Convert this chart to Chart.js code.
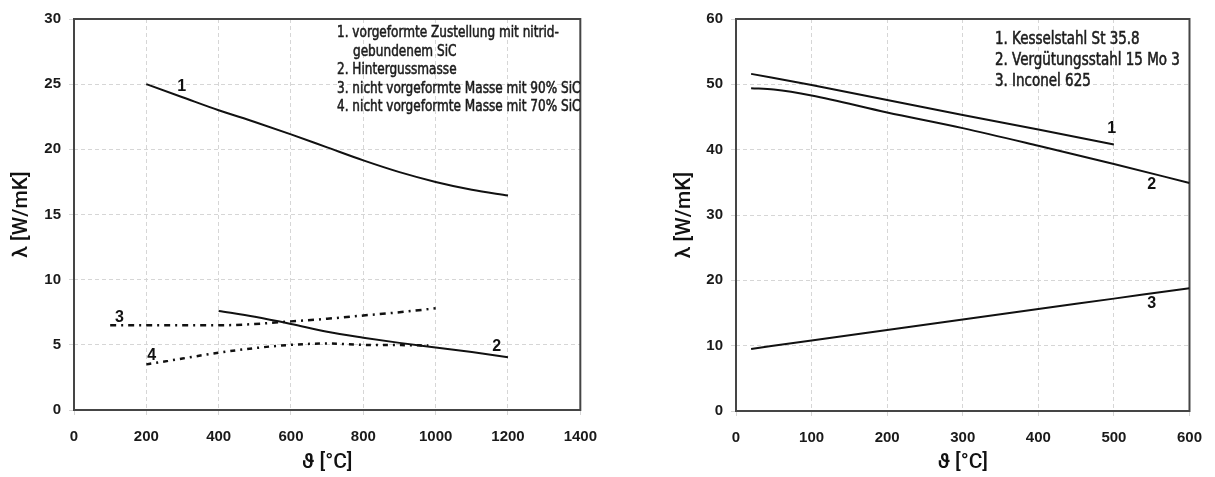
<!DOCTYPE html>
<html><head><meta charset="utf-8">
<script src="https://cdn.jsdelivr.net/npm/chart.js@4.4.1/dist/chart.umd.min.js"></script>
<style>
html,body{margin:0;padding:0;background:#fff;width:1215px;height:477px;overflow:hidden}
#l{position:absolute;left:0;top:0;width:610px;height:477px}
#r{position:absolute;left:620px;top:0;width:595px;height:477px}
</style></head><body>
<div id="l"><canvas id="c1"></canvas></div>
<div id="r"><canvas id="c2"></canvas></div>
<script>
// ---------- Left chart data ----------
const leftXTickValues = [0, 200, 400, 600, 800, 1000, 1200, 1400];
const leftYTickValues = [0, 5, 10, 15, 20, 25, 30];
const l1x = [200, 300, 400, 500, 600, 700, 800, 900, 1000, 1100, 1200];
const l1y = [25.0, 24.0, 23.0, 22.1, 21.15, 20.15, 19.15, 18.25, 17.5, 16.9, 16.45];
const l2x = [400, 500, 600, 700, 800, 900, 1000, 1100, 1200];
const l2y = [7.6, 7.15, 6.6, 6.0, 5.55, 5.15, 4.8, 4.45, 4.05];
const l3x = [100, 200, 300, 400, 500, 600, 700, 800, 900, 1000];
const l3y = [6.5, 6.5, 6.5, 6.5, 6.6, 6.8, 7.0, 7.25, 7.5, 7.8];
const l4x = [200, 300, 400, 500, 600, 700, 800, 900, 980];
const l4y = [3.5, 3.95, 4.4, 4.75, 5.0, 5.1, 5.0, 4.98, 4.95];
const leftCurveLabels = ["1", "2", "3", "4"];
const leftCurveLabelX = [298, 1169, 126, 215];
const leftCurveLabelY = [24.8, 4.9, 7.1, 4.2];
const leftLegendLines = [
  "1. vorgeformte Zustellung mit nitrid-",
  "gebundenem SiC",
  "2. Hintergussmasse",
  "3. nicht vorgeformte Masse mit 90% SiC",
  "4. nicht vorgeformte Masse mit 70% SiC"
];
const leftXTitle = "\u03D1 [°C]";
const leftYTitle = "\u03BB [W/mK]";

// ---------- Right chart data ----------
const rightXTickValues = [0, 100, 200, 300, 400, 500, 600];
const rightYTickValues = [0, 10, 20, 30, 40, 50, 60];
const r1x = [20, 100, 200, 300, 400, 500];
const r1y = [51.6, 49.9, 47.6, 45.3, 43.1, 40.8];
const r2x = [20, 50, 100, 200, 300, 400, 500, 600];
const r2y = [49.4, 49.2, 48.3, 45.7, 43.3, 40.6, 37.8, 34.9];
const r3x = [20, 100, 200, 300, 400, 500, 600];
const r3y = [9.5, 10.8, 12.4, 14.0, 15.6, 17.2, 18.8];
const rightCurveLabels = ["1", "2", "3"];
const rightCurveLabelX = [497, 550, 550];
const rightCurveLabelY = [43.2, 34.6, 16.4];
const rightLegendLines = [
  "1. Kesselstahl St 35.8",
  "2. Vergütungsstahl 15 Mo 3",
  "3. Inconel 625"
];
const rightXTitle = "\u03D1 [°C]";
const rightYTitle = "\u03BB [W/mK]";

// ---------- helpers ----------
const zip = (xs, ys) => xs.map((x, i) => ({x: x, y: ys[i]}));
const TICK_FONT = {family: "'Liberation Sans', Arial, sans-serif", size: 15, weight: 'bold'};
const TITLE_FONT = {family: "Roboto, 'Liberation Sans Narrow', sans-serif", size: 21, weight: '500'};
const GRID = {color: '#d6d6d6', lineWidth: 1, tickLength: 5, drawTicks: true};

const framePlugin = {
  id: 'frame',
  beforeDatasetsDraw(chart) {
    const {ctx, chartArea: a} = chart;
    ctx.save();
    ctx.strokeStyle = '#454545';
    ctx.lineWidth = 2;
    ctx.strokeRect(a.left, a.top, a.right - a.left, a.bottom - a.top);
    ctx.restore();
  }
};

const textPlugin = {
  id: 'texts',
  afterDatasetsDraw(chart, args, opts) {
    const {ctx} = chart;
    const xs = chart.scales.x, ys = chart.scales.y;
    ctx.save();
    ctx.fillStyle = '#111';
    ctx.textBaseline = 'middle';
    ctx.textAlign = 'center';
    ctx.font = opts.labelFont;
    opts.labels.forEach((t, i) => {
      ctx.fillText(t, xs.getPixelForValue(opts.lx[i]), ys.getPixelForValue(opts.ly[i]));
    });
    ctx.textAlign = 'left';
    ctx.font = opts.legendFont;
    ctx.fillStyle = '#1c1c1c';
    ctx.strokeStyle = '#1c1c1c';
    ctx.lineWidth = 0.55;
    opts.legend.forEach((t, i) => {
      const indent = (opts.indent && opts.indent[i]) || 0;
      ctx.save();
      ctx.translate(opts.legendX + indent, opts.legendY + i * opts.legendStep);
      ctx.scale(opts.legendScaleX, 1);
      ctx.fillText(t, 0, 0);
      ctx.strokeText(t, 0, 0);
      ctx.restore();
    });
    ctx.restore();
  }
};

function makeChart(id, cfg) {
  const lineDs = (data, dash, w) => ({
    data: data, borderColor: '#111', borderWidth: w, borderDash: dash,
    pointRadius: 0, fill: false, tension: 0.4, cubicInterpolationMode: 'monotone'
  });
  return new Chart(document.getElementById(id), {
    type: 'line',
    data: {datasets: cfg.series.map(s => lineDs(s.data, s.dash, s.w))},
    options: {
      animation: false, responsive: true, maintainAspectRatio: false,
      layout: {padding: {left: 0, right: cfg.padRight, top: cfg.padTop, bottom: 0}},
      plugins: {legend: {display: false}, tooltip: {enabled: false},
        texts: cfg.texts},
      scales: {
        x: {type: 'linear', min: cfg.xMin, max: cfg.xMax,
          afterBuildTicks: s => { s.ticks = cfg.xTicks.map(v => ({value: v})); },
          afterFit: s => { s.height = cfg.xAxisH; },
          grid: GRID, border: {display: false, dash: [4, 3]},
          ticks: {font: TICK_FONT, color: '#1a1a1a', padding: 13, maxRotation: 0, autoSkip: false,
            callback: v => String(v)},
          title: {display: true, text: cfg.xTitle, font: TITLE_FONT, color: '#111', padding: {top: 0, bottom: 2}}
        },
        y: {type: 'linear', min: cfg.yMin, max: cfg.yMax,
          afterBuildTicks: s => { s.ticks = cfg.yTicks.map(v => ({value: v})); },
          afterFit: s => { s.width = cfg.yAxisW; },
          grid: GRID, border: {display: false, dash: [4, 3]},
          ticks: {font: TICK_FONT, color: '#1a1a1a', padding: 8, autoSkip: false,
            callback: v => String(v)},
          title: {display: true, text: cfg.yTitle, font: TITLE_FONT, color: '#111', padding: {top: cfg.yTitlePad, bottom: 0}}
        }
      }
    },
    plugins: [framePlugin, textPlugin]
  });
}

makeChart('c1', {
  series: [
    {data: zip(l1x, l1y), dash: [], w: 2},
    {data: zip(l2x, l2y), dash: [], w: 2},
    {data: zip(l3x, l3y), dash: [6, 5, 2, 5], w: 2.5},
    {data: zip(l4x, l4y), dash: [5, 5, 2, 5], w: 2.5}
  ],
  xMin: 0, xMax: 1400, yMin: 0, yMax: 30,
  xTicks: leftXTickValues, yTicks: leftYTickValues,
  xTitle: leftXTitle, yTitle: leftYTitle,
  padRight: 21, padTop: 19, xAxisH: 67, yAxisW: 74, yTitlePad: 9,
  texts: {labels: leftCurveLabels, lx: leftCurveLabelX, ly: leftCurveLabelY,
    labelFont: "bold 16px 'Liberation Sans', Arial, sans-serif",
    legend: leftLegendLines, indent: [0, 16, 0, 0, 0],
    legendX: 337, legendY: 33, legendStep: 18.5, legendScaleX: 0.84,
    legendFont: "16px 'Liberation Sans Narrow', 'DejaVu Sans Condensed', sans-serif"}
});

makeChart('c2', {
  series: [
    {data: zip(r1x, r1y), dash: [], w: 2},
    {data: zip(r2x, r2y), dash: [], w: 2},
    {data: zip(r3x, r3y), dash: [], w: 2}
  ],
  xMin: 0, xMax: 600, yMin: 0, yMax: 60,
  xTicks: rightXTickValues, yTicks: rightYTickValues,
  xTitle: rightXTitle, yTitle: rightYTitle,
  padRight: 21, padTop: 19, xAxisH: 66, yAxisW: 116, yTitlePad: 52,
  texts: {labels: rightCurveLabels, lx: rightCurveLabelX, ly: rightCurveLabelY,
    labelFont: "bold 16px 'Liberation Sans', Arial, sans-serif",
    legend: rightLegendLines, indent: [0, 0, 0],
    legendX: 375, legendY: 39.5, legendStep: 20.8, legendScaleX: 0.88,
    legendFont: "17px 'Liberation Sans Narrow', 'DejaVu Sans Condensed', sans-serif"}
});
</script>
</body></html>
